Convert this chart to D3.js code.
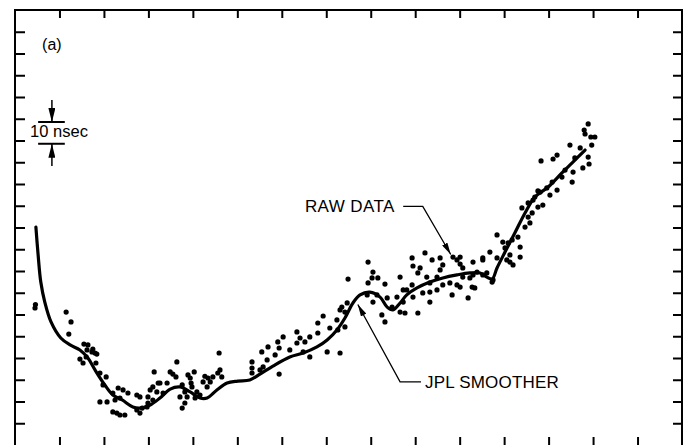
<!DOCTYPE html>
<html><head><meta charset="utf-8">
<script src="https://cdn.jsdelivr.net/npm/d3@7"></script>
<style>body{margin:0;background:#fff;overflow:hidden}svg{display:block}</style>
</head><body>
<svg id="c" width="692" height="445"></svg>
<script>
// ---- data (x in tick intervals / days, y in nsec) ----
const xTicks = [1,2,3,4,5,6,7,8,9,10,11,12,13,14];
const yTicks = [10,20,30,40,50,60,70,80,90,100,110,120,130,140,150,160,170,180,190];

const smootherDay = [0.47,0.52,0.58,0.67,0.81,1.03,1.24,1.46,1.64,1.80,2.02,2.20,2.41,2.65,2.81,3.04,3.26,3.49,3.71,3.94,4.16,4.32,4.54,4.77,5.01,5.28,5.51,5.80,6.18,6.48,6.79,7.02,7.24,7.42,7.60,7.76,7.98,8.21,8.37,8.50,8.66,8.81,9.04,9.33,9.62,9.94,10.23,10.46,10.61,10.73,10.84,11.02,11.24,11.47,11.69,11.99,12.30,12.53,12.82];
const smootherNsec = [100.2,87.4,74.9,65.7,56.6,49.2,46.0,43.7,40.0,34.5,27.6,23.0,20.7,17.5,17.0,18.4,21.6,25.7,26.7,24.4,21.6,21.6,25.3,28.5,29.4,29.9,32.6,36.3,40.5,42.3,45.1,48.3,52.9,58.4,65.3,69.0,70.3,68.0,63.4,62.1,65.3,69.0,72.2,74.9,76.8,78.2,79.1,79.1,77.2,76.3,81.4,88.7,97.5,106.7,114.0,118.6,125.1,129.7,135.6];

const rawDay = [0.45,0.46,1.15,1.26,1.21,1.55,1.64,1.75,1.62,1.80,1.73,1.84,1.46,1.53,1.60,1.82,1.91,2.05,1.98,1.91,2.07,2.20,2.32,2.43,2.54,2.36,2.25,2.20,2.29,2.36,2.47,
2.74,2.81,2.74,2.81,2.86,2.97,2.99,3.04,3.10,3.22,3.19,3.10,2.99,3.13,3.64,3.49,3.55,3.62,3.42,3.33,3.26,3.76,3.82,3.71,3.87,3.76,3.82,3.89,4.03,3.98,4.09,4.16,4.05,4.23,4.34,4.45,4.56,4.61,4.59,4.27,4.39,4.32,4.65,3.94,3.96,
5.33,5.33,5.33,5.51,5.58,5.55,5.69,5.91,6.03,5.94,5.85,5.67,5.94,6.34,6.41,6.52,6.63,6.48,6.63,6.81,6.81,6.93,7.08,7.24,7.26,7.31,7.35,7.47,7.42,7.49,7.02,7.31,6.18,6.34,
7.94,8.05,8.03,8.16,7.94,8.32,8.66,8.93,8.95,9.11,9.22,9.38,9.56,9.06,9.26,9.56,9.62,9.85,9.94,8.05,7.92,8.37,8.48,8.25,8.59,8.73,8.93,9.33,9.17,9.49,9.78,9.83,10.01,8.66,8.77,9.06,9.33,8.32,8.81,8.95,9.33,9.49,9.62,8.14,7.42,9.94,8.73,
10.07,10.01,10.30,10.52,10.84,10.97,11.02,11.13,11.06,11.20,10.68,10.84,10.07,10.23,10.39,10.61,10.73,10.28,10.34,10.19,10.01,10.30,10.52,10.75,10.52,11.09,11.18,11.31,11.36,11.36,11.13,
11.47,11.54,11.58,11.54,11.65,11.87,11.76,11.40,11.63,11.76,11.96,12.08,12.19,12.03,11.81,11.69,11.83,12.10,12.19,12.55,12.53,12.37,12.30,12.48,12.71,12.97,12.89,12.91,12.77,12.89,12.80,12.82,12.95,13.04,12.59];
const rawNsec = [63.0,64.6,61.1,56.6,51.0,46.4,46.0,44.1,43.7,42.3,42.8,41.8,39.5,37.7,40.5,37.7,33.1,31.3,27.6,19.8,19.8,23.9,26.2,25.3,23.9,21.6,20.7,15.2,14.7,13.8,13.8,
23.0,22.1,16.1,14.7,17.0,17.5,22.1,25.3,26.7,28.5,24.4,20.7,19.3,33.6,38.2,33.6,32.6,31.3,28.5,23.9,28.5,27.6,24.4,22.1,22.1,17.0,19.3,32.2,33.6,26.7,24.4,23.0,21.6,29.0,30.8,31.3,33.1,34.5,42.3,31.6,29.0,26.7,31.3,30.8,28.5,
38.2,35.4,33.1,34.5,35.9,42.8,45.1,47.4,49.7,44.6,41.4,39.1,32.6,52.0,49.2,47.4,49.7,42.8,40.5,56.1,51.5,59.3,53.8,57.5,52.9,62.1,63.4,65.3,54.3,76.3,42.8,42.3,43.7,46.9,
84.1,79.5,76.8,76.8,74.5,74.0,77.2,86.0,82.3,81.4,88.3,85.1,86.0,79.1,77.2,80.5,82.8,86.4,85.1,65.7,69.0,67.6,63.4,59.8,68.0,71.3,73.6,74.5,69.9,77.2,74.5,69.0,72.6,61.1,60.7,60.7,65.7,56.6,71.3,68.0,70.3,71.3,73.6,69.0,61.1,73.6,65.7,
81.4,83.2,84.1,86.0,96.6,93.3,90.6,87.4,85.1,82.8,88.7,86.0,77.2,76.8,79.5,79.1,74.9,72.6,72.2,67.6,86.4,78.2,78.2,75.9,85.1,92.9,94.3,95.6,91.0,86.4,84.1,
100.2,104.8,102.1,111.3,112.6,110.3,109.4,109.0,106.7,116.8,118.2,120.9,117.2,114.9,116.3,114.0,130.6,131.5,133.3,125.5,120.9,126.4,123.2,137.9,136.6,137.9,132.4,129.2,127.4,147.6,144.8,143.0,141.6,141.6,132.0];

const panelLabel = "(a)";
const scaleLabel = "10 nsec";
const rawLabel = "RAW DATA";
const smootherLabel = "JPL SMOOTHER";

// ---- layout ----
const x = d3.scaleLinear().domain([0, 15]).range([15, 682]);
const y = d3.scaleLinear().domain([0, 200]).range([445, 10]);

const svg = d3.select("#c");
const defs = svg.append("defs");
defs.append("marker").attr("id","ah").attr("viewBox","0 0 12 6")
  .attr("refX",12).attr("refY",3).attr("markerWidth",12).attr("markerHeight",6)
  .attr("markerUnits","userSpaceOnUse").attr("orient","auto")
  .append("path").attr("d","M0,0L12,3L0,6Z").attr("fill","#000");
defs.append("marker").attr("id","ah2").attr("viewBox","0 0 14 7")
  .attr("refX",14).attr("refY",3.5).attr("markerWidth",14).attr("markerHeight",7)
  .attr("markerUnits","userSpaceOnUse").attr("orient","auto")
  .append("path").attr("d","M0,0L14,3.5L0,7Z").attr("fill","#000");

// frame
svg.append("rect").attr("x",15).attr("y",10).attr("width",667).attr("height",445)
  .attr("fill","none").attr("stroke","#000").attr("stroke-width",2);

// ticks via axes (inward)
const gTop = svg.append("g").attr("transform","translate(0,10)")
  .call(d3.axisBottom(x).tickValues(xTicks).tickSize(8).tickFormat(""));
const gBot = svg.append("g").attr("transform","translate(0,445)")
  .call(d3.axisTop(x).tickValues(xTicks).tickSize(8).tickFormat(""));
const gLeft = svg.append("g").attr("transform","translate(15,0)")
  .call(d3.axisRight(y).tickValues(yTicks).tickSize(10).tickFormat(""));
const gRight = svg.append("g").attr("transform","translate(682,0)")
  .call(d3.axisLeft(y).tickValues(yTicks).tickSize(9).tickFormat(""));
[gTop,gBot,gLeft,gRight].forEach(g=>{
  g.select(".domain").remove();
  g.selectAll(".tick line").attr("stroke","#000").attr("stroke-width",2);
});

// smoother curve
const line = d3.line().x((d,i)=>x(smootherDay[i])).y((d,i)=>y(smootherNsec[i])).curve(d3.curveCatmullRom.alpha(0.5));
svg.append("path").attr("d", line(smootherDay)).attr("fill","none")
  .attr("stroke","#000").attr("stroke-width",3.2).attr("stroke-linejoin","round").attr("stroke-linecap","round");

// raw data
svg.append("g").selectAll("circle").data(rawDay).join("circle")
  .attr("cx",(d,i)=>x(rawDay[i])).attr("cy",(d,i)=>y(rawNsec[i])).attr("r",2.6).attr("fill","#000");

// text
const font = "'Liberation Sans', Arial, Helvetica, sans-serif";
function txt(t, xv, yv, size){
  return svg.append("text").attr("x",x(xv)).attr("y",y(yv)).text(t)
    .attr("font-family",font).attr("font-size",size).attr("fill","#000");
}
txt(panelLabel, 0.61, 181.4, 16);
txt(scaleLabel, 0.34, 141.6, 16.5);
txt(rawLabel, 6.52, 106.9, 17).attr("letter-spacing",0.4);
txt(smootherLabel, 9.22, 26.2, 17).attr("letter-spacing",0.2);

// scale bar (10 nsec)
const sb = [148.5, 138.5];
sb.forEach(v=>svg.append("line").attr("x1",x(0.52)).attr("x2",x(1.12)).attr("y1",y(v)).attr("y2",y(v))
  .attr("stroke","#000").attr("stroke-width",2));
svg.append("line").attr("x1",x(0.83)).attr("x2",x(0.83)).attr("y1",y(158.6)).attr("y2",y(148.5))
  .attr("stroke","#000").attr("stroke-width",1.5).attr("marker-end","url(#ah2)");
svg.append("line").attr("x1",x(0.83)).attr("x2",x(0.83)).attr("y1",y(128.3)).attr("y2",y(138.5))
  .attr("stroke","#000").attr("stroke-width",1.5).attr("marker-end","url(#ah2)");

// leaders
const lp = d3.line().x(d=>x(d[0])).y(d=>y(d[1]));
svg.append("path").attr("d", lp([[8.73,109.7],[9.17,109.7],[9.80,87.6]]))
  .attr("fill","none").attr("stroke","#000").attr("stroke-width",1.3).attr("marker-end","url(#ah)");
svg.append("path").attr("d", lp([[9.13,29.0],[8.66,29.0],[7.71,64.6]]))
  .attr("fill","none").attr("stroke","#000").attr("stroke-width",1.3).attr("marker-end","url(#ah)");
</script>
</body></html>
